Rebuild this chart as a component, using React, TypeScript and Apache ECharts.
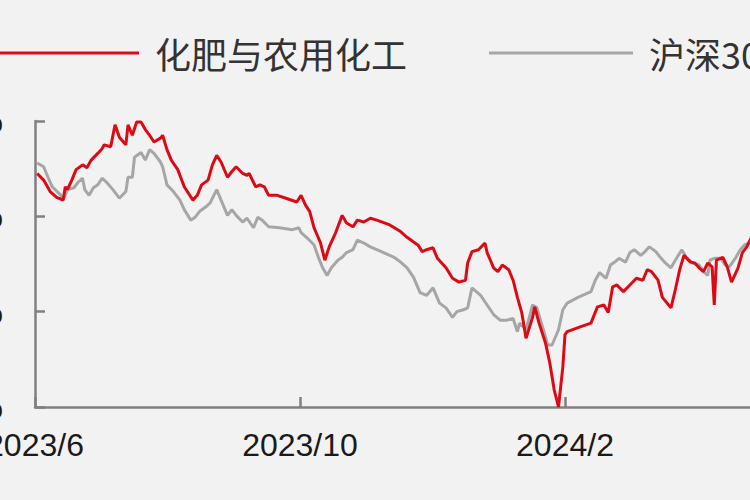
import React, { useEffect, useRef } from "react";
import * as echarts from "echarts";

const seriesNames = ["化肥与农用化工", "沪深300"];
const xTickLabels = ["2023/6", "2023/10", "2024/2", "2024/6"];

// x: days since 2023-06-01, y: relative return (%)
const redDays = [1,4,7,10,13,14,15,17,19,22,24,26,29,31,32,35,37,39,42,43,45,47,49,51,53,55,58,59,61,63,66,69,73,75,77,80,82,84,86,89,91,93,96,98,99,102,104,106,108,112,116,121,123,125,127,129,132,134,136,139,142,144,147,149,152,155,158,164,169,172,175,177,179,181,184,186,190,193,196,199,200,202,205,208,209,212,214,216,219,221,223,225,227,230,231,233,236,238,240,242,244,245,246,252,257,260,263,265,267,269,272,275,278,281,283,285,288,290,294,296,298,300,303,305,307,309,311,313,314,315,318,320,322,325,327,329,331];
const redValues = [4.5,3.8,2.6,2.0,1.7,3.1,2.8,3.8,4.9,5.4,5.1,5.9,6.6,7.1,7.5,7.3,9.6,8.3,7.5,9.6,8.5,9.9,9.9,9.1,8.5,7.8,8.2,8.5,7.0,5.9,4.9,3.1,1.7,2.2,3.3,3.8,5.4,6.4,5.7,4.1,4.7,5.2,4.5,4.3,4.5,3.1,3.3,3.1,2.2,2.2,1.9,1.5,2.2,1.2,0.5,-1.2,-2.8,-4.6,-3.2,-1.7,0.1,-0.7,-1.1,-0.4,-0.6,-0.2,-0.4,-0.9,-1.6,-2.2,-2.7,-3.0,-3.7,-3.5,-3.3,-4.4,-5.4,-6.5,-6.9,-6.7,-4.9,-3.7,-3.5,-2.8,-3.8,-5.4,-5.8,-5.1,-5.6,-6.7,-8.5,-10.1,-12.8,-10.6,-9.5,-11.2,-13.3,-15.4,-18.2,-20.0,-15.8,-12.4,-12.1,-11.6,-11.2,-9.5,-9.3,-10.1,-7.4,-7.2,-7.9,-7.2,-6.5,-6.7,-5.6,-5.8,-6.7,-8.5,-9.6,-7.7,-5.6,-4.1,-4.8,-4.9,-5.4,-5.8,-4.9,-5.3,-9.3,-4.6,-4.3,-5.3,-6.9,-5.4,-3.8,-3.2,-2.3];

const grayDays = [1,4,6,8,12,13,15,18,20,22,23,25,27,29,31,33,36,39,42,43,45,46,49,51,53,55,58,59,61,64,67,69,72,74,76,79,81,82,84,86,89,91,93,96,98,101,103,105,108,113,119,122,123,126,129,131,133,135,137,140,142,144,147,149,152,155,158,164,166,169,172,175,178,181,184,187,190,193,195,198,200,202,206,209,212,215,218,221,223,224,227,230,232,235,237,239,242,244,246,251,257,259,261,264,266,268,270,273,275,277,280,282,284,287,289,291,294,296,299,301,304,307,309,311,312,314,317,319,321,324,326,328,331];
const grayValues = [5.6,5.2,4.1,3.1,2.2,1.7,2.8,3.0,3.6,4.0,2.8,2.2,3.0,3.3,4.0,3.6,2.8,1.9,2.6,4.1,4.1,6.2,6.7,5.9,7.0,6.6,5.7,5.2,3.3,2.6,1.7,0.7,-0.4,-0.1,0.5,1.0,1.4,1.9,2.8,1.7,0.1,0.7,0.1,-0.6,-0.2,-1.2,-0.1,-0.4,-1.1,-1.2,-1.4,-1.2,-1.7,-2.3,-3.0,-4.3,-5.4,-6.2,-5.4,-4.6,-4.3,-3.8,-3.5,-2.5,-2.8,-3.2,-3.5,-4.1,-4.3,-4.8,-5.4,-6.4,-8.0,-8.3,-7.5,-9.1,-9.6,-10.6,-10.0,-9.8,-9.6,-7.5,-8.3,-9.3,-10.3,-10.9,-10.9,-10.7,-12.1,-11.2,-11.9,-9.3,-9.6,-11.9,-13.5,-13.5,-11.9,-9.8,-9.1,-8.5,-7.9,-6.7,-5.9,-6.5,-5.1,-4.8,-4.4,-4.8,-3.8,-3.5,-4.1,-3.7,-3.2,-3.7,-4.3,-4.8,-5.4,-4.6,-3.5,-4.3,-4.9,-5.1,-5.8,-6.2,-4.6,-4.4,-4.4,-5.1,-5.3,-4.3,-3.5,-3.0,-2.7];

const X_INTERVAL = 122.5;

export default function App() {
  const ref = useRef<HTMLDivElement>(null);

  useEffect(() => {
    if (!ref.current) return;
    const chart = echarts.init(ref.current, null, { renderer: "svg" });
    const red = redDays.map((d, i) => [d, redValues[i]]);
    const gray = grayDays.map((d, i) => [d, grayValues[i]]);
    chart.setOption({
      animation: false,
      backgroundColor: "#f2f2f2",
      legend: {
        data: seriesNames,
        left: 90,
        top: 28,
        icon: "rect",
        itemWidth: 144,
        itemHeight: 3,
        itemGap: 82,
        textStyle: {
          fontSize: 36,
          lineHeight: 40,
          color: "#333333",
          fontFamily: "Noto Sans CJK SC",
          padding: [0, 0, 0, 11],
        },
      },
      grid: {
        left: 135,
        right: 20,
        top: 121,
        bottom: 93,
        containLabel: false,
        outerBoundsMode: "none",
      },
      xAxis: {
        type: "value",
        min: 0,
        max: X_INTERVAL * 3,
        interval: X_INTERVAL,
        axisLine: { show: true, onZero: false, lineStyle: { color: "#808080", width: 2.5 } },
        axisTick: { show: true, inside: true, length: 10, lineStyle: { color: "#808080", width: 2.5 } },
        splitLine: { show: false },
        axisLabel: {
          margin: 22,
          fontSize: 32,
          lineHeight: 32,
          color: "#1a1a1a",
          fontFamily: "Liberation Sans",
          formatter: (v: number) => xTickLabels[Math.round(v / X_INTERVAL)] ?? "",
        },
      },
      yAxis: {
        type: "value",
        min: -20,
        max: 10,
        interval: 10,
        axisLine: { show: true, onZero: false, lineStyle: { color: "#808080", width: 2.5 } },
        axisTick: { show: true, inside: true, length: 10, lineStyle: { color: "#808080", width: 2.5 } },
        splitLine: { show: false },
        axisLabel: {
          margin: 32,
          fontSize: 32,
          color: "#1a1a1a",
          fontFamily: "Liberation Sans",
          formatter: (v: number) => `${v}%`,
        },
      },
      series: [
        {
          name: seriesNames[0],
          type: "line",
          data: red,
          showSymbol: false,
          z: 3,
          lineStyle: { color: "#dc0a14", width: 3 },
          itemStyle: { color: "#dc0a14" },
        },
        {
          name: seriesNames[1],
          type: "line",
          data: gray,
          showSymbol: false,
          z: 2,
          lineStyle: { color: "#a6a6a6", width: 3 },
          itemStyle: { color: "#a6a6a6" },
        },
      ],
    });
    return () => chart.dispose();
  }, []);

  return (
    <div
      style={{
        position: "fixed",
        left: 0,
        top: 0,
        width: 750,
        height: 500,
        overflow: "hidden",
        background: "#f2f2f2",
      }}
    >
      <div ref={ref} style={{ position: "absolute", left: -100, top: 0, width: 950, height: 500 }} />
    </div>
  );
}
